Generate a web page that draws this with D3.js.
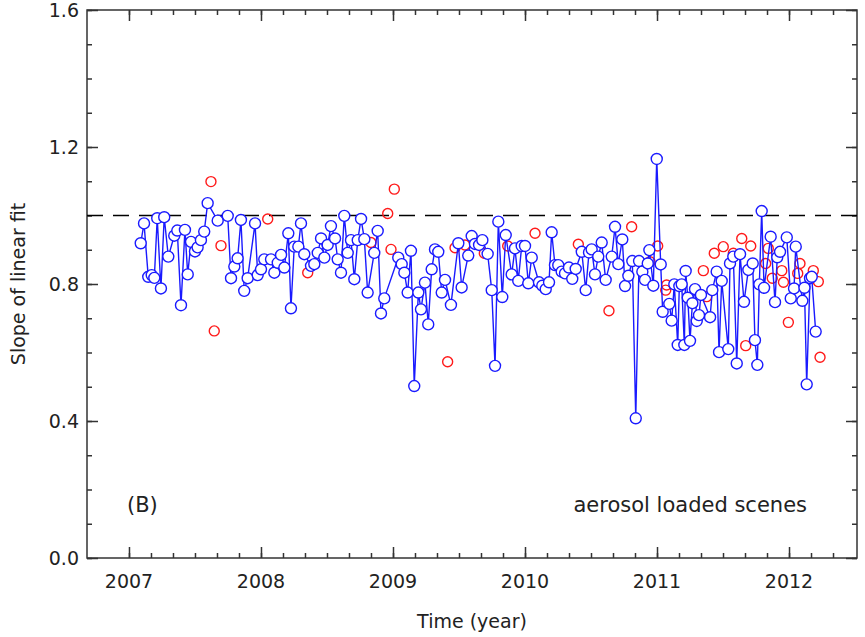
<!DOCTYPE html>
<html>
<head>
<meta charset="utf-8">
<script src="https://cdn.jsdelivr.net/npm/d3@7"></script>
<style>
  body { margin: 0; background: #fff; }
  text { font-family: 'DejaVu Sans', sans-serif; fill: #222; }
</style>
</head>
<body>
<div id="chart"></div>
<script>
// blue series: [year, slope]
const blueSeries = [
  [2007.089,0.919],[2007.114,0.977],[2007.146,0.821],[2007.172,0.826],[2007.192,0.818],[2007.214,0.992],
  [2007.242,0.787],[2007.267,0.995],[2007.298,0.880],[2007.343,0.941],[2007.366,0.956],[2007.394,0.738],
  [2007.424,0.958],[2007.445,0.828],[2007.470,0.923],[2007.500,0.895],[2007.520,0.907],[2007.545,0.928],
  [2007.570,0.953],[2007.596,1.036],[2007.672,0.985],[2007.748,0.999],[2007.773,0.817],[2007.798,0.851],
  [2007.823,0.875],[2007.848,0.987],[2007.873,0.780],[2007.899,0.817],[2007.955,0.977],[2007.975,0.826],
  [2008.000,0.843],[2008.025,0.872],[2008.076,0.872],[2008.101,0.833],[2008.127,0.862],[2008.152,0.885],
  [2008.177,0.848],[2008.207,0.948],[2008.227,0.729],[2008.252,0.909],[2008.283,0.909],[2008.303,0.977],
  [2008.328,0.887],[2008.379,0.853],[2008.404,0.858],[2008.430,0.891],[2008.455,0.933],[2008.480,0.877],
  [2008.505,0.914],[2008.530,0.969],[2008.561,0.933],[2008.581,0.872],[2008.606,0.833],[2008.631,0.999],
  [2008.657,0.891],[2008.682,0.928],[2008.707,0.814],[2008.733,0.928],[2008.758,0.990],[2008.783,0.931],
  [2008.808,0.775],[2008.858,0.891],[2008.884,0.955],[2008.909,0.714],[2008.934,0.758],[2009.040,0.877],
  [2009.066,0.858],[2009.086,0.833],[2009.111,0.775],[2009.136,0.897],[2009.161,0.502],[2009.192,0.775],
  [2009.212,0.726],[2009.242,0.804],[2009.267,0.682],[2009.293,0.843],[2009.318,0.901],[2009.343,0.894],
  [2009.369,0.775],[2009.394,0.812],[2009.439,0.739],[2009.495,0.919],[2009.520,0.790],[2009.570,0.883],
  [2009.596,0.940],[2009.621,0.917],[2009.652,0.914],[2009.677,0.928],[2009.717,0.888],[2009.748,0.782],
  [2009.773,0.561],[2009.798,0.982],[2009.828,0.762],[2009.854,0.943],[2009.899,0.828],[2009.924,0.904],
  [2009.949,0.809],[2009.975,0.911],[2010.000,0.911],[2010.025,0.802],[2010.051,0.877],[2010.106,0.805],
  [2010.131,0.795],[2010.157,0.785],[2010.182,0.805],[2010.202,0.951],[2010.227,0.855],[2010.252,0.855],
  [2010.278,0.836],[2010.303,0.831],[2010.333,0.848],[2010.358,0.815],[2010.384,0.844],[2010.430,0.894],
  [2010.460,0.782],[2010.485,0.892],[2010.505,0.901],[2010.530,0.828],[2010.555,0.880],[2010.581,0.921],
  [2010.611,0.812],[2010.657,0.880],[2010.682,0.967],[2010.707,0.858],[2010.737,0.930],[2010.758,0.794],
  [2010.783,0.824],[2010.813,0.867],[2010.839,0.408],[2010.864,0.867],[2010.889,0.836],[2010.909,0.812],
  [2010.930,0.860],[2010.942,0.899],[2010.972,0.795],[2010.998,1.165],[2011.028,0.857],[2011.043,0.719],
  [2011.093,0.742],[2011.111,0.693],[2011.131,0.799],[2011.157,0.622],[2011.169,0.794],[2011.187,0.799],
  [2011.207,0.622],[2011.217,0.838],[2011.233,0.760],[2011.250,0.634],[2011.268,0.744],[2011.288,0.785],
  [2011.301,0.692],[2011.318,0.709],[2011.333,0.768],[2011.402,0.703],[2011.419,0.782],[2011.452,0.836],
  [2011.470,0.601],[2011.490,0.809],[2011.540,0.610],[2011.553,0.860],[2011.578,0.880],[2011.604,0.568],
  [2011.629,0.887],[2011.659,0.748],[2011.692,0.841],[2011.725,0.860],[2011.742,0.636],[2011.760,0.564],
  [2011.775,0.799],[2011.793,1.013],[2011.811,0.789],[2011.861,0.938],[2011.894,0.747],[2011.911,0.878],
  [2011.932,0.894],[2011.983,0.936],[2012.013,0.758],[2012.038,0.787],[2012.051,0.909],[2012.101,0.751],
  [2012.117,0.789],[2012.134,0.507],[2012.159,0.817],[2012.172,0.821],[2012.202,0.661]
]

// red series: [year, slope]
const redSeries = [
  [2007.621,1.099],[2007.646,0.663],[2007.697,0.912],[2008.051,0.990],[2008.354,0.833],[2008.833,0.921],
  [2008.960,1.006],[2008.985,0.901],[2009.010,1.077],[2009.414,0.573],[2009.470,0.906],[2009.545,0.914],
  [2009.692,0.890],[2009.869,0.911],[2010.076,0.948],[2010.404,0.916],[2010.636,0.722],[2010.808,0.967],
  [2010.947,0.865],[2011.005,0.911],[2011.066,0.782],[2011.073,0.797],[2011.351,0.839],[2011.376,0.763],
  [2011.434,0.890],[2011.502,0.909],[2011.578,0.890],[2011.642,0.933],[2011.672,0.620],[2011.710,0.911],
  [2011.823,0.860],[2011.843,0.904],[2011.873,0.817],[2011.945,0.839],[2011.958,0.805],[2011.995,0.688],
  [2012.066,0.831],[2012.083,0.860],[2012.184,0.839],[2012.222,0.807],[2012.235,0.586]
]

const yearTicks = [2007, 2008, 2009, 2010, 2011, 2012]
const slopeTicks = [0.0, 0.4, 0.8, 1.2, 1.6]
const referenceLine = 1.0

const margin = { top: 10, left: 87, right: 8, bottom: 79 }
const width = 865 - margin.left - margin.right
const height = 637 - margin.top - margin.bottom

const svg = d3
  .select('#chart')
  .append('svg')
  .attr('width', 865)
  .attr('height', 637)
  .append('g')
  .attr('transform', 'translate(' + margin.left + ',' + margin.top + ')')

const xScale = d3.scaleLinear().domain([2006.682, 2012.515]).range([0, width])
const yScale = d3.scaleLinear().domain([0, 1.6]).range([height, 0])

// minor ticks every 2 months / every 0.1
const xMinor = d3.range(2007, 2012.5, 1 / 6).filter(d => xScale(d) > 0 && xScale(d) < width)
const yMinor = d3.range(0, 1.61, 0.1)

const axisColor = '#333'

function tickAxis(axis, ticks, major) {
  return axis.tickValues(ticks).tickSize(major ? 11 : 5).tickSizeOuter(0)
}

svg.append('g').attr('transform', 'translate(0,' + height + ')')
  .call(tickAxis(d3.axisTop(xScale), xMinor, false).tickFormat(''))
svg.append('g').attr('transform', 'translate(0,' + height + ')')
  .call(tickAxis(d3.axisTop(xScale), yearTicks, true).tickFormat(''))
svg.append('g')
  .call(tickAxis(d3.axisBottom(xScale), xMinor, false).tickFormat(''))
svg.append('g')
  .call(tickAxis(d3.axisBottom(xScale), yearTicks, true).tickFormat(''))
svg.append('g')
  .call(tickAxis(d3.axisRight(yScale), yMinor, false).tickFormat(''))
svg.append('g')
  .call(tickAxis(d3.axisRight(yScale), slopeTicks, true).tickFormat(''))
svg.append('g').attr('transform', 'translate(' + width + ',0)')
  .call(tickAxis(d3.axisLeft(yScale), yMinor, false).tickFormat(''))
svg.append('g').attr('transform', 'translate(' + width + ',0)')
  .call(tickAxis(d3.axisLeft(yScale), slopeTicks, true).tickFormat(''))

svg.selectAll('.domain').remove()
svg.selectAll('.tick line').attr('stroke', axisColor).attr('stroke-width', 1.5)

svg.append('rect')
  .attr('width', width)
  .attr('height', height)
  .attr('fill', 'none')
  .attr('stroke', axisColor)
  .attr('stroke-width', 1.5)

// tick labels
svg.selectAll('.xlab')
  .data(yearTicks)
  .enter()
  .append('text')
  .attr('x', d => xScale(d))
  .attr('y', height + 30)
  .attr('text-anchor', 'middle')
  .attr('font-size', 19)
  .text(d => d)

svg.selectAll('.ylab')
  .data(slopeTicks)
  .enter()
  .append('text')
  .attr('x', -8)
  .attr('y', d => yScale(d))
  .attr('dy', '0.35em')
  .attr('text-anchor', 'end')
  .attr('font-size', 19)
  .text(d => d.toFixed(1))

svg.append('text')
  .attr('x', width / 2)
  .attr('y', height + 70)
  .attr('text-anchor', 'middle')
  .attr('font-size', 19)
  .text('Time (year)')

svg.append('text')
  .attr('transform', 'translate(' + (-62) + ',' + height / 2 + ') rotate(-90)')
  .attr('text-anchor', 'middle')
  .attr('font-size', 19)
  .text('Slope of linear fit')

svg.append('text')
  .attr('x', 40)
  .attr('y', 502)
  .attr('font-size', 21)
  .text('(B)')

svg.append('text')
  .attr('x', 720)
  .attr('y', 502)
  .attr('text-anchor', 'end')
  .attr('font-size', 21)
  .text('aerosol loaded scenes')

// dashed reference at 1.0
svg.append('line')
  .attr('x1', 0)
  .attr('x2', width)
  .attr('y1', yScale(referenceLine))
  .attr('y2', yScale(referenceLine))
  .attr('stroke', '#000')
  .attr('stroke-width', 1.5)
  .attr('stroke-dasharray', '16,10')

svg.selectAll('.red')
  .data(redSeries)
  .enter()
  .append('circle')
  .attr('cx', d => xScale(d[0]))
  .attr('cy', d => yScale(d[1]))
  .attr('r', 5)
  .attr('fill', 'none')
  .attr('stroke', '#ff1a1a')
  .attr('stroke-width', 1.4)

const line = d3.line().x(d => xScale(d[0])).y(d => yScale(d[1]))

svg.append('path')
  .datum(blueSeries)
  .attr('d', line)
  .attr('fill', 'none')
  .attr('stroke', '#1a1aff')
  .attr('stroke-width', 1.4)

svg.selectAll('.blue')
  .data(blueSeries)
  .enter()
  .append('circle')
  .attr('cx', d => xScale(d[0]))
  .attr('cy', d => yScale(d[1]))
  .attr('r', 5.5)
  .attr('fill', '#fff')
  .attr('stroke', '#1a1aff')
  .attr('stroke-width', 1.4)
</script>
</body>
</html>
